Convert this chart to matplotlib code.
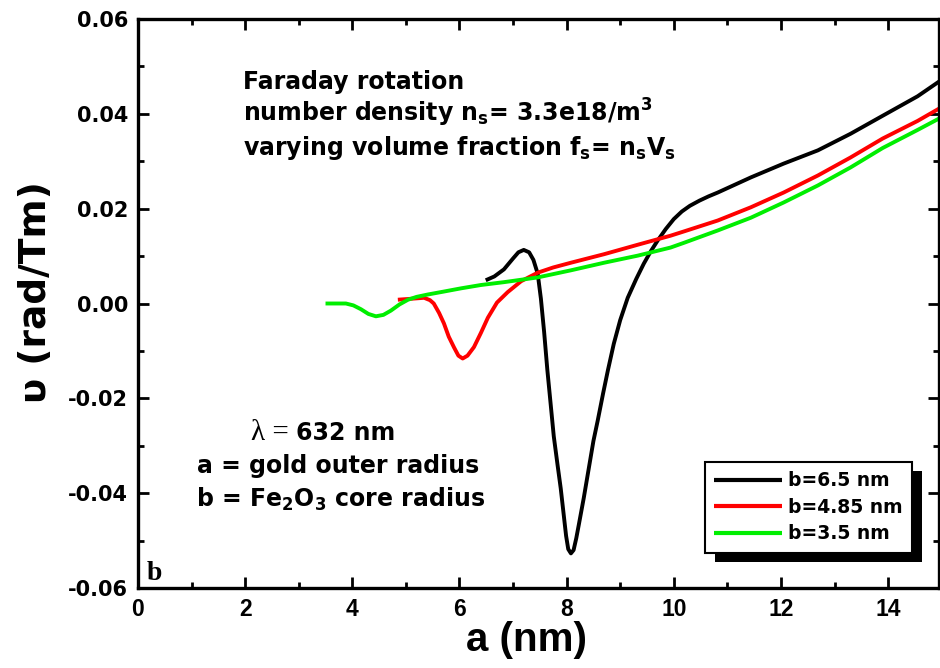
import matplotlib
matplotlib.use("Agg")
import matplotlib.pyplot as plt
from matplotlib.patches import Rectangle
from matplotlib.ticker import MultipleLocator

# ---- data: Faraday rotation vs gold outer radius a, for three core radii b ----
a_b65 = [6.49, 6.65, 6.83, 7.00, 7.10, 7.20, 7.30, 7.38, 7.46, 7.52, 7.58, 7.64,
         7.70, 7.76, 7.83, 7.89, 7.95, 7.99, 8.03, 8.08, 8.13, 8.18, 8.23, 8.32,
         8.41, 8.50, 8.58, 8.68, 8.77, 8.88, 9.00, 9.14, 9.30, 9.44, 9.57, 9.70,
         9.85, 10.00, 10.15, 10.30, 10.48, 10.65, 10.82, 11.13, 11.44, 12.05,
         12.69, 13.30, 13.90, 14.55, 14.95]
v_b65 = [0.0049, 0.0057, 0.0072, 0.0095, 0.0108, 0.0113, 0.0108, 0.0092, 0.0063,
         0.0010, -0.0060, -0.0140, -0.0210, -0.0280, -0.0340, -0.0390, -0.0450,
         -0.0490, -0.0518, -0.0527, -0.0520, -0.0495, -0.0465, -0.0410, -0.0350,
         -0.0290, -0.0247, -0.0190, -0.0141, -0.0085, -0.0035, 0.0012, 0.0052,
         0.0084, 0.0110, 0.0133, 0.0157, 0.0178, 0.0194, 0.0206, 0.0217, 0.0226,
         0.0234, 0.0250, 0.0266, 0.0295, 0.0323, 0.0358, 0.0396, 0.0437, 0.0468]

a_b485 = [4.85, 5.10, 5.34, 5.45, 5.52, 5.62, 5.71, 5.80, 5.90, 5.98, 6.06, 6.15,
          6.27, 6.40, 6.53, 6.70, 6.90, 7.15, 7.46, 7.75, 8.08, 8.70, 9.33, 9.94,
          10.19, 10.82, 11.44, 12.05, 12.69, 13.30, 13.90, 14.55, 14.95]
v_b485 = [0.0008, 0.0010, 0.0012, 0.0007, 0.0000, -0.0020, -0.0042, -0.0070,
          -0.0093, -0.0110, -0.0116, -0.0110, -0.0092, -0.0062, -0.0030, 0.0002,
          0.0024, 0.0047, 0.0065, 0.0076, 0.0086, 0.0104, 0.0124, 0.0143, 0.0152,
          0.0175, 0.0203, 0.0234, 0.0270, 0.0308, 0.0348, 0.0385, 0.0411]

a_b35 = [3.50, 3.70, 3.88, 4.02, 4.16, 4.30, 4.44, 4.58, 4.72, 4.88, 5.04, 5.20,
         5.41, 5.70, 6.03, 6.40, 6.83, 7.46, 8.08, 8.70, 9.33, 9.94, 10.19, 10.82,
         11.44, 12.05, 12.69, 13.30, 13.90, 14.55, 14.95]
v_b35 = [0.0000, 0.0000, 0.0000, -0.0004, -0.0012, -0.0022, -0.0027, -0.0024,
         -0.0015, -0.0002, 0.0008, 0.0014, 0.0019, 0.0025, 0.0032, 0.0039, 0.0045,
         0.0055, 0.0070, 0.0086, 0.0101, 0.0118, 0.0128, 0.0154, 0.0181, 0.0213,
         0.0249, 0.0287, 0.0328, 0.0366, 0.0390]

series_labels = ["b=6.5 nm", "b=4.85 nm", "b=3.5 nm"]
series_colors = ["#000000", "#ff0000", "#00ee00"]

x_ticks = [0, 2, 4, 6, 8, 10, 12, 14]
x_tick_labels = ["0", "2", "4", "6", "8", "10", "12", "14"]
y_ticks = [-0.06, -0.04, -0.02, 0.00, 0.02, 0.04, 0.06]
y_tick_labels = ["-0.06", "-0.04", "-0.02", "0.00", "0.02", "0.04", "0.06"]

# ---- figure ----
W, H = 940, 668
plt.rcParams["font.family"] = ["DejaVu Sans"]
plt.rcParams["font.weight"] = "bold"
plt.rcParams["mathtext.default"] = "bf"

fig = plt.figure(figsize=(W / 100, H / 100), dpi=100)
L, R, T, B = 138, 939, 19, 588
ax = fig.add_axes([L / W, 1 - B / H, (R - L) / W, (B - T) / H])

for xs, ys, lab, col in zip([a_b65, a_b485, a_b35], [v_b65, v_b485, v_b35],
                            series_labels, series_colors):
    ax.plot(xs, ys, color=col, lw=2.8, label=lab, solid_capstyle="butt",
            solid_joinstyle="round")

ax.set_xlim(0, 14.95)
ax.set_ylim(-0.06, 0.06)

ax.set_xticks(x_ticks)
ax.set_xticklabels(x_tick_labels, family=["Liberation Sans", "DejaVu Sans"],
                   fontsize=16.5, fontweight="bold")
ax.set_yticks(y_ticks)
ax.set_yticklabels(y_tick_labels, fontsize=15, fontweight="bold")
ax.xaxis.set_minor_locator(MultipleLocator(1))
ax.yaxis.set_minor_locator(MultipleLocator(0.01))
ax.tick_params(which="both", direction="in", top=True, right=True, width=2)
ax.tick_params(which="major", length=8)
ax.tick_params(which="minor", length=4)
ax.tick_params(axis="x", which="major", pad=7)
ax.tick_params(axis="y", which="major", pad=7)
for sp in ax.spines.values():
    sp.set_linewidth(2.4)

ax.set_xlabel("a (nm)", fontsize=29, fontweight="bold",
              family=["Liberation Sans", "DejaVu Sans"])
ax.xaxis.set_label_coords(0.485, -0.092)
ax.xaxis.label.set_va("center")
ax.set_ylabel("\u03c5 (rad/Tm)", fontsize=27, fontweight="bold")
ax.yaxis.set_label_coords(-0.127, 0.52)
ax.yaxis.label.set_va("center")


def fig_px(x, y):
    return x / W, 1 - y / H


txt = dict(fontsize=17, fontweight="bold", va="baseline", ha="left")
fig.text(*fig_px(243, 89), "Faraday rotation", **txt)
fig.text(*fig_px(243, 122), r"number density n$_s$= 3.3e18/m$^3$", **txt)
fig.text(*fig_px(243, 155), r"varying volume fraction f$_s$= n$_s$V$_s$", **txt)

fig.text(*fig_px(251, 440), "\u03bb =", fontsize=21, va="baseline", ha="left",
         family=["Liberation Serif", "DejaVu Serif"], fontweight="normal")
fig.text(*fig_px(296, 440), "632 nm", **txt)
fig.text(*fig_px(197, 473), "a = gold outer radius", **txt)
fig.text(*fig_px(196, 507), r"b = Fe$_2$O$_3$ core radius", **txt)

fig.text(*fig_px(147, 580), "b", fontsize=20, fontweight="bold", va="baseline",
         ha="left", family=["Liberation Serif", "DejaVu Serif"])

leg = ax.legend(loc="upper left", bbox_to_anchor=(0.708, 0.2214),
                borderaxespad=0, fontsize=13.5, frameon=True, fancybox=False,
                handlelength=3.6, handletextpad=0.3, labelspacing=0.4,
                borderpad=0.5)
leg.get_frame().set_edgecolor("black")
leg.get_frame().set_linewidth(1.5)
leg.get_frame().set_facecolor("white")
leg.get_frame().set_alpha(1)
for ln in leg.get_lines():
    ln.set_linewidth(3)

# solid offset drop shadow behind the legend box
fig.canvas.draw()
bb = leg.get_window_extent()
inv = ax.transAxes.inverted()
(x0, y0), (x1, y1) = inv.transform([(bb.x0 + 10, bb.y0 - 9), (bb.x1 + 10, bb.y1 - 9)])
ax.add_patch(Rectangle((x0, y0), x1 - x0, y1 - y0, transform=ax.transAxes,
                       facecolor="black", edgecolor="none", zorder=4.9,
                       clip_on=False))

fig.savefig("out.png", dpi=100)
